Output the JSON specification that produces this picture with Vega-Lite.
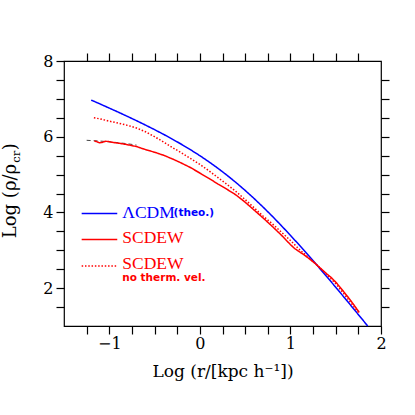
{
  "$schema": "https://vega.github.io/schema/vega-lite/v6.json",
  "width": 317,
  "height": 265,
  "autosize": {"type": "none"},
  "padding": {"left": 64, "top": 61, "right": 34, "bottom": 89},
  "background": "white",
  "config": {
    "view": {"stroke": "black", "strokeWidth": 1.2},
    "axis": {"domain": false, "grid": false, "tickColor": "black", "tickWidth": 1.2, "labelColor": "black", "titleColor": "black"}
  },
  "datasets": {
    "curves": [
      {"series": "LCDM", "part": "curve", "x": -1.2, "y": 6.968},
      {"series": "LCDM", "part": "curve", "x": -1.1, "y": 6.863},
      {"series": "LCDM", "part": "curve", "x": -1.0, "y": 6.756},
      {"series": "LCDM", "part": "curve", "x": -0.9, "y": 6.648},
      {"series": "LCDM", "part": "curve", "x": -0.8, "y": 6.537},
      {"series": "LCDM", "part": "curve", "x": -0.7, "y": 6.424},
      {"series": "LCDM", "part": "curve", "x": -0.6, "y": 6.307},
      {"series": "LCDM", "part": "curve", "x": -0.5, "y": 6.187},
      {"series": "LCDM", "part": "curve", "x": -0.4, "y": 6.062},
      {"series": "LCDM", "part": "curve", "x": -0.3, "y": 5.932},
      {"series": "LCDM", "part": "curve", "x": -0.2, "y": 5.795},
      {"series": "LCDM", "part": "curve", "x": -0.1, "y": 5.651},
      {"series": "LCDM", "part": "curve", "x": 0.0, "y": 5.499},
      {"series": "LCDM", "part": "curve", "x": 0.1, "y": 5.337},
      {"series": "LCDM", "part": "curve", "x": 0.2, "y": 5.165},
      {"series": "LCDM", "part": "curve", "x": 0.3, "y": 4.982},
      {"series": "LCDM", "part": "curve", "x": 0.4, "y": 4.788},
      {"series": "LCDM", "part": "curve", "x": 0.5, "y": 4.582},
      {"series": "LCDM", "part": "curve", "x": 0.6, "y": 4.365},
      {"series": "LCDM", "part": "curve", "x": 0.7, "y": 4.137},
      {"series": "LCDM", "part": "curve", "x": 0.8, "y": 3.899},
      {"series": "LCDM", "part": "curve", "x": 0.9, "y": 3.651},
      {"series": "LCDM", "part": "curve", "x": 1.0, "y": 3.395},
      {"series": "LCDM", "part": "curve", "x": 1.1, "y": 3.132},
      {"series": "LCDM", "part": "curve", "x": 1.2, "y": 2.862},
      {"series": "LCDM", "part": "curve", "x": 1.3, "y": 2.587},
      {"series": "LCDM", "part": "curve", "x": 1.4, "y": 2.307},
      {"series": "LCDM", "part": "curve", "x": 1.5, "y": 2.024},
      {"series": "LCDM", "part": "curve", "x": 1.6, "y": 1.737},
      {"series": "LCDM", "part": "curve", "x": 1.7, "y": 1.447},
      {"series": "LCDM", "part": "curve", "x": 1.8, "y": 1.156},
      {"series": "LCDM", "part": "curve", "x": 1.853, "y": 1.0},

      {"series": "SCDEW", "part": "curve", "x": -1.165, "y": 5.89},
      {"series": "SCDEW", "part": "curve", "x": -1.14, "y": 5.87},
      {"series": "SCDEW", "part": "curve", "x": -1.11, "y": 5.84},
      {"series": "SCDEW", "part": "curve", "x": -1.08, "y": 5.85},
      {"series": "SCDEW", "part": "curve", "x": -1.04, "y": 5.88},
      {"series": "SCDEW", "part": "curve", "x": -1.0, "y": 5.87},
      {"series": "SCDEW", "part": "curve", "x": -0.96, "y": 5.85},
      {"series": "SCDEW", "part": "curve", "x": -0.9, "y": 5.83},
      {"series": "SCDEW", "part": "curve", "x": -0.8, "y": 5.79},
      {"series": "SCDEW", "part": "curve", "x": -0.7, "y": 5.74},
      {"series": "SCDEW", "part": "curve", "x": -0.6, "y": 5.66},
      {"series": "SCDEW", "part": "curve", "x": -0.5, "y": 5.59},
      {"series": "SCDEW", "part": "curve", "x": -0.4, "y": 5.51},
      {"series": "SCDEW", "part": "curve", "x": -0.3, "y": 5.41},
      {"series": "SCDEW", "part": "curve", "x": -0.2, "y": 5.30},
      {"series": "SCDEW", "part": "curve", "x": -0.1, "y": 5.18},
      {"series": "SCDEW", "part": "curve", "x": 0.0, "y": 5.04},
      {"series": "SCDEW", "part": "curve", "x": 0.1, "y": 4.90},
      {"series": "SCDEW", "part": "curve", "x": 0.2, "y": 4.75},
      {"series": "SCDEW", "part": "curve", "x": 0.3, "y": 4.61},
      {"series": "SCDEW", "part": "curve", "x": 0.4, "y": 4.46},
      {"series": "SCDEW", "part": "curve", "x": 0.5, "y": 4.27},
      {"series": "SCDEW", "part": "curve", "x": 0.6, "y": 4.06},
      {"series": "SCDEW", "part": "curve", "x": 0.7, "y": 3.85},
      {"series": "SCDEW", "part": "curve", "x": 0.8, "y": 3.63},
      {"series": "SCDEW", "part": "curve", "x": 0.9, "y": 3.40},
      {"series": "SCDEW", "part": "curve", "x": 1.0, "y": 3.15},
      {"series": "SCDEW", "part": "curve", "x": 1.05, "y": 3.04},
      {"series": "SCDEW", "part": "curve", "x": 1.1, "y": 2.96},
      {"series": "SCDEW", "part": "curve", "x": 1.15, "y": 2.88},
      {"series": "SCDEW", "part": "curve", "x": 1.2, "y": 2.79},
      {"series": "SCDEW", "part": "curve", "x": 1.27, "y": 2.66},
      {"series": "SCDEW", "part": "curve", "x": 1.33, "y": 2.53},
      {"series": "SCDEW", "part": "curve", "x": 1.4, "y": 2.38},
      {"series": "SCDEW", "part": "curve", "x": 1.45, "y": 2.28},
      {"series": "SCDEW", "part": "curve", "x": 1.5, "y": 2.16},
      {"series": "SCDEW", "part": "curve", "x": 1.55, "y": 2.02},
      {"series": "SCDEW", "part": "curve", "x": 1.6, "y": 1.87},
      {"series": "SCDEW", "part": "curve", "x": 1.65, "y": 1.72},
      {"series": "SCDEW", "part": "curve", "x": 1.7, "y": 1.56},
      {"series": "SCDEW", "part": "curve", "x": 1.76, "y": 1.36},

      {"series": "SCDEW_nt", "part": "curve", "x": -1.17, "y": 6.50},
      {"series": "SCDEW_nt", "part": "curve", "x": -1.1, "y": 6.47},
      {"series": "SCDEW_nt", "part": "curve", "x": -1.0, "y": 6.41},
      {"series": "SCDEW_nt", "part": "curve", "x": -0.9, "y": 6.36},
      {"series": "SCDEW_nt", "part": "curve", "x": -0.8, "y": 6.30},
      {"series": "SCDEW_nt", "part": "curve", "x": -0.7, "y": 6.23},
      {"series": "SCDEW_nt", "part": "curve", "x": -0.6, "y": 6.13},
      {"series": "SCDEW_nt", "part": "curve", "x": -0.5, "y": 6.00},
      {"series": "SCDEW_nt", "part": "curve", "x": -0.4, "y": 5.86},
      {"series": "SCDEW_nt", "part": "curve", "x": -0.3, "y": 5.71},
      {"series": "SCDEW_nt", "part": "curve", "x": -0.2, "y": 5.57},
      {"series": "SCDEW_nt", "part": "curve", "x": -0.1, "y": 5.42},
      {"series": "SCDEW_nt", "part": "curve", "x": 0.0, "y": 5.27},
      {"series": "SCDEW_nt", "part": "curve", "x": 0.1, "y": 5.10},
      {"series": "SCDEW_nt", "part": "curve", "x": 0.2, "y": 4.92},
      {"series": "SCDEW_nt", "part": "curve", "x": 0.3, "y": 4.74},
      {"series": "SCDEW_nt", "part": "curve", "x": 0.4, "y": 4.55},
      {"series": "SCDEW_nt", "part": "curve", "x": 0.5, "y": 4.34},
      {"series": "SCDEW_nt", "part": "curve", "x": 0.6, "y": 4.12},
      {"series": "SCDEW_nt", "part": "curve", "x": 0.7, "y": 3.90},
      {"series": "SCDEW_nt", "part": "curve", "x": 0.8, "y": 3.70},
      {"series": "SCDEW_nt", "part": "curve", "x": 0.9, "y": 3.48},
      {"series": "SCDEW_nt", "part": "curve", "x": 1.0, "y": 3.26},
      {"series": "SCDEW_nt", "part": "curve", "x": 1.1, "y": 3.02},
      {"series": "SCDEW_nt", "part": "curve", "x": 1.2, "y": 2.81},
      {"series": "SCDEW_nt", "part": "curve", "x": 1.27, "y": 2.66},
      {"series": "SCDEW_nt", "part": "curve", "x": 1.35, "y": 2.48},
      {"series": "SCDEW_nt", "part": "curve", "x": 1.4, "y": 2.36},
      {"series": "SCDEW_nt", "part": "curve", "x": 1.5, "y": 2.12},
      {"series": "SCDEW_nt", "part": "curve", "x": 1.6, "y": 1.82},
      {"series": "SCDEW_nt", "part": "curve", "x": 1.7, "y": 1.51},
      {"series": "SCDEW_nt", "part": "curve", "x": 1.76, "y": 1.33},

      {"series": "LCDM", "part": "legend", "x": -1.305, "y": 3.971},
      {"series": "LCDM", "part": "legend", "x": -0.912, "y": 3.971},
      {"series": "SCDEW", "part": "legend", "x": -1.305, "y": 3.283},
      {"series": "SCDEW", "part": "legend", "x": -0.912, "y": 3.283},
      {"series": "SCDEW_nt", "part": "legend", "x": -1.305, "y": 2.585},
      {"series": "SCDEW_nt", "part": "legend", "x": -0.912, "y": 2.585}
    ],
    "fit": [
      {"x": -1.25, "y": 5.905},
      {"x": -1.1, "y": 5.885},
      {"x": -0.95, "y": 5.855},
      {"x": -0.82, "y": 5.82},
      {"x": -0.70, "y": 5.78}
    ],
    "legendBig": [
      {"label": "ΛCDM", "series": "LCDM", "x": -0.857, "y": 3.865},
      {"label": "SCDEW", "series": "SCDEW", "x": -0.857, "y": 3.19},
      {"label": "SCDEW", "series": "SCDEW_nt", "x": -0.857, "y": 2.516}
    ],
    "legendSmall": [
      {"label": "(theo.)", "series": "LCDM", "x": -0.29, "y": 3.90},
      {"label": "no therm. vel.", "series": "SCDEW_nt", "x": -0.857, "y": 2.18}
    ],
    "ytitle": [
      {"x": -2.029, "y": 3.32}
    ]
  },
  "layer": [
    {
      "encoding": {
        "x": {
          "field": "x", "type": "quantitative",
          "scale": {"domain": [-1.5, 2], "nice": false, "zero": false},
          "axis": {
            "orient": "bottom",
            "values": [-1.25, -1, -0.75, -0.5, -0.25, 0, 0.25, 0.5, 0.75, 1, 1.25, 1.5, 1.75, 2],
            "tickSize": 8,
            "encode": {"ticks": {"update": {"y2": {"signal": "datum.value % 1 === 0 ? -11 : -5"}}}},
            "labelExpr": "datum.value % 1 === 0 ? format(datum.value, 'd') : ''",
            "labelFont": "DejaVu Serif", "labelFontSize": 16, "labelPadding": 1,
            "labelFlush": false, "labelOverlap": false,
            "title": "Log (r/[kpc h⁻¹])", "titleFont": "DejaVu Serif", "titleFontSize": 17,
            "titleFontWeight": "normal", "titlePadding": 12
          }
        },
        "y": {
          "field": "y", "type": "quantitative",
          "scale": {"domain": [1, 8], "nice": false, "zero": false},
          "axis": {
            "orient": "left",
            "values": [1.5, 2, 2.5, 3, 3.5, 4, 4.5, 5, 5.5, 6, 6.5, 7, 7.5, 8],
            "tickSize": 8,
            "encode": {"ticks": {"update": {"x2": {"signal": "datum.value % 2 === 0 ? 11 : 5"}}}},
            "labelExpr": "datum.value % 2 === 0 ? format(datum.value, 'd') : ''",
            "labelFont": "DejaVu Serif", "labelFontSize": 16, "labelPadding": 3,
            "labelFlush": false, "labelOverlap": false,
            "title": null
          }
        }
      },
      "layer": [
        {
          "data": {"name": "fit"},
          "mark": {"type": "line", "color": "#444444", "strokeWidth": 1, "strokeDash": [4, 3]},
          "encoding": {}
        },
        {
          "data": {"name": "curves"},
          "mark": {"type": "line", "strokeWidth": 1.5},
          "encoding": {
            "detail": {"field": "part"},
            "color": {
              "field": "series", "type": "nominal",
              "scale": {"domain": ["LCDM", "SCDEW", "SCDEW_nt"], "range": ["#0000ff", "#ff0000", "#ff0000"]},
              "legend": null
            },
            "strokeDash": {
              "field": "series", "type": "nominal",
              "scale": {"domain": ["LCDM", "SCDEW", "SCDEW_nt"], "range": [[1, 0], [1, 0], [1.5, 1.8]]},
              "legend": null
            }
          }
        },
        {
          "data": {"name": "legendBig"},
          "mark": {"type": "text", "align": "left", "baseline": "alphabetic", "font": "Liberation Serif", "fontSize": 17.5},
          "encoding": {
            "text": {"field": "label"},
            "color": {"field": "series", "type": "nominal", "legend": null}
          }
        },
        {
          "data": {"name": "legendSmall"},
          "mark": {"type": "text", "align": "left", "baseline": "alphabetic", "font": "DejaVu Sans", "fontSize": 10.5, "fontWeight": "bold"},
          "encoding": {
            "text": {"field": "label"},
            "color": {"field": "series", "type": "nominal", "legend": null}
          }
        },
        {
          "data": {"name": "ytitle"},
          "mark": {"type": "text", "angle": 270, "align": "left", "baseline": "alphabetic", "font": "DejaVu Serif", "fontSize": 18, "color": "black"},
          "encoding": {"text": {"value": "Log (ρ/ρ"}}
        },
        {
          "data": {"name": "ytitle"},
          "mark": {"type": "text", "angle": 270, "align": "left", "baseline": "alphabetic", "font": "DejaVu Serif", "fontSize": 11.5, "color": "black", "dx": 75.5, "dy": 4},
          "encoding": {"text": {"value": "cr"}}
        },
        {
          "data": {"name": "ytitle"},
          "mark": {"type": "text", "angle": 270, "align": "left", "baseline": "alphabetic", "font": "DejaVu Serif", "fontSize": 18, "color": "black", "dx": 88},
          "encoding": {"text": {"value": ")"}}
        }
      ]
    },
    {
      "data": {"name": "fit"},
      "mark": {"type": "point", "opacity": 0},
      "encoding": {
        "x": {
          "field": "x", "type": "quantitative",
          "scale": {"domain": [-1.5, 2], "nice": false, "zero": false},
          "axis": {
            "orient": "top",
            "values": [-1.25, -1, -0.75, -0.5, -0.25, 0, 0.25, 0.5, 0.75, 1, 1.25, 1.5, 1.75],
            "tickSize": 8,
            "encode": {"ticks": {"update": {"y2": {"signal": "datum.value % 1 === 0 ? 11 : 5"}}}},
            "labels": false, "title": null
          }
        },
        "y": {
          "field": "y", "type": "quantitative",
          "scale": {"domain": [1, 8], "nice": false, "zero": false},
          "axis": {
            "orient": "right",
            "values": [1.5, 2, 2.5, 3, 3.5, 4, 4.5, 5, 5.5, 6, 6.5, 7, 7.5],
            "tickSize": 8,
            "encode": {"ticks": {"update": {"x2": {"signal": "datum.value % 2 === 0 ? -11 : -5"}}}},
            "labels": false, "title": null
          }
        }
      }
    }
  ],
  "resolve": {"scale": {"x": "independent", "y": "independent"}}
}
